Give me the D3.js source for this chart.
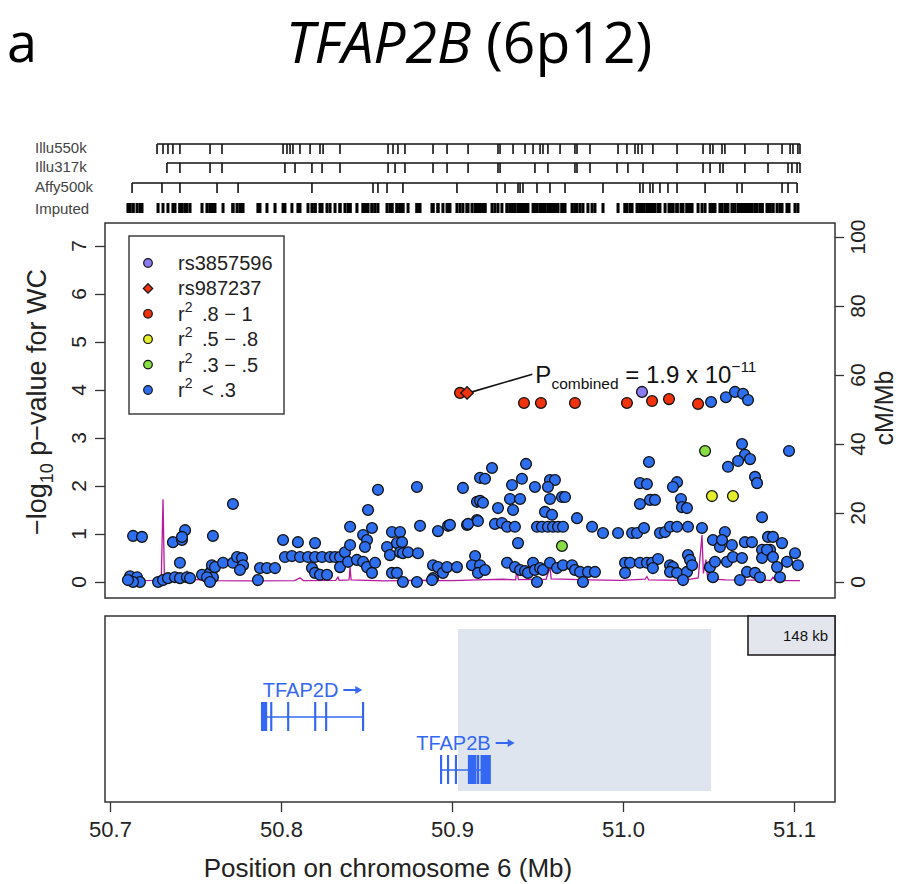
<!DOCTYPE html>
<html>
<head>
<meta charset="utf-8">
<script src="https://cdn.jsdelivr.net/npm/d3@7"></script>
<style>
  body { margin: 0; background: #fff; }
  svg { font-family: "Liberation Sans", Arial, sans-serif; }
</style>
</head>
<body>
<script>
// ---- data (positions in Mb, association as -log10 p) ----
var snpBlue = [
  [50.7135,0.96],[50.7187,0.94],[50.7117,0.12],[50.7158,0.10],[50.7175,0.0],[50.7135,0.0],[50.7105,0.04],
  [50.7281,0.0],[50.7310,0.04],[50.7339,0.08],[50.7380,0.10],[50.7409,0.08],[50.7450,0.10],[50.7468,0.08],
  [50.7368,0.83],[50.7421,0.875],[50.7439,1.08],[50.7421,0.94],[50.7409,0.40],
  [50.7538,0.15],[50.7585,0.19],[50.7602,0.10],[50.7567,0.10],[50.7596,0.35],[50.7614,0.31],[50.7661,0.40],
  [50.7719,0.40],[50.7743,0.52],[50.7772,0.50],[50.7778,0.35],[50.7760,0.25],[50.7585,0.0],[50.7602,0.96],
  [50.7719,1.625],[50.7877,0.29],[50.7865,0.04],[50.7918,0.29],[50.7965,0.29],
  [50.8012,0.875],[50.8099,0.83],[50.8199,0.81],
  [50.8023,0.52],[50.8064,0.54],[50.8111,0.52],[50.8158,0.52],[50.8199,0.52],[50.8240,0.52],[50.8287,0.52],
  [50.8316,0.52],[50.8345,0.52],[50.8181,0.29],[50.8199,0.19],[50.8228,0.15],[50.8269,0.15],
  [50.8374,0.62],[50.8404,0.77],[50.8345,0.31],[50.8392,0.42],[50.8444,0.46],[50.8480,0.42],[50.8503,0.31],
  [50.8550,0.40],[50.8532,0.19],[50.8404,1.15],[50.8480,0.98],[50.8503,0.875],[50.8491,0.73],[50.8532,1.125],
  [50.8509,1.50],[50.8567,1.92],
  [50.8620,0.73],[50.8649,1.04],[50.8637,0.56],[50.8678,0.81],[50.8696,1.04],[50.8708,0.83],[50.8696,0.62],
  [50.8713,0.60],[50.8743,0.62],[50.8801,0.60],[50.8649,0.19],[50.8678,0.19],[50.8713,0.0],[50.8795,0.0],
  [50.8795,1.98],[50.8813,1.17],
  [50.8889,0.35],[50.8918,0.31],[50.8947,0.19],[50.8971,0.31],[50.9029,0.31],[50.8889,0.08],[50.8883,0.04],
  [50.8918,1.06],[50.8977,1.17],[50.9064,1.96],[50.9088,1.19],[50.9146,1.29],[50.9146,1.67],[50.9164,2.17],
  [50.9135,0.54],[50.9117,0.35],[50.9164,0.35],[50.9152,0.19],[50.9193,0.25],
  [50.9234,2.375],[50.9193,2.15],[50.9433,2.46],[50.9409,2.15],[50.9351,2.02],[50.9485,1.98],[50.9573,2.125],
  [50.9602,2.125],[50.9561,1.98],
  [50.9164,1.69],[50.9181,1.65],[50.9269,1.54],[50.9339,1.73],[50.9398,1.73],[50.9357,1.50],[50.9573,1.73],
  [50.9643,1.77],[50.9661,1.77],[50.9544,1.46],[50.9585,1.40],[50.9731,1.33],
  [50.8988,1.19],[50.9094,1.21],[50.9152,1.27],[50.9251,1.21],[50.9292,1.23],[50.9322,1.15],[50.9368,1.15],
  [50.9497,1.15],[50.9526,1.15],[50.9561,1.15],[50.9591,1.15],[50.9620,1.15],[50.9649,1.15],
  [50.9819,1.15],[50.9883,1.02],[50.9971,1.02],
  [51.0053,1.02],[51.0082,1.02],[51.0123,1.125],[51.0216,1.02],[51.0246,1.04],[51.0275,1.15],[51.0316,1.15],
  [51.0380,1.15],[51.0462,1.125],[50.9386,0.81],
  [51.0152,2.5],[51.0099,2.06],[51.0140,2.04],[51.0316,2.08],[51.0292,1.98],[51.0099,1.625],[51.0158,1.71],
  [51.0187,1.71],[51.0339,1.73],[51.0345,1.56],[51.0374,1.54],
  [51.0696,2.875],[51.0713,2.65],[51.0673,2.52],[51.0743,2.56],[51.0614,2.40],[51.0971,2.73],
  [51.0772,2.19],[51.0784,2.06],[51.0813,1.35],
  [51.0596,1.04],[51.0526,0.875],[51.0567,0.73],[51.0637,0.77],[51.0579,0.875],[51.0713,0.83],[51.0754,0.83],
  [51.0848,0.94],[51.0877,0.94],[51.0930,0.81],[51.0813,0.67],[51.0860,0.67],[51.1006,0.60],[51.1023,0.35],
  [50.9322,0.40],[50.9368,0.31],[50.9398,0.25],[50.9427,0.23],[50.9444,0.19],[50.9474,0.40],[50.9485,0.25],
  [50.9515,0.29],[50.9497,0.0],[50.9532,0.25],[50.9573,0.40],[50.9614,0.29],[50.9649,0.35],[50.9702,0.35],
  [50.9719,0.25],[50.9749,0.21],[50.9766,0.0],[50.9795,0.21],[50.9836,0.21],
  [51.0012,0.40],[51.0041,0.40],[51.0012,0.19],[51.0099,0.40],[51.0140,0.40],[51.0170,0.40],[51.0205,0.48],
  [51.0175,0.29],[51.0275,0.35],[51.0292,0.31],[51.0275,0.21],[51.0316,0.19],[51.0374,0.21],[51.0351,0.04],
  [51.0380,0.56],[51.0392,0.46],[51.0404,0.35],
  [51.0509,0.31],[51.0538,0.42],[51.0608,0.42],[51.0643,0.52],[51.0696,0.50],[51.0725,0.21],[51.0772,0.19],
  [51.0813,0.50],[51.0842,0.67],[51.0877,0.52],[51.0901,0.31],[51.0959,0.42],[51.0918,0.10],[51.0684,0.04],
  [51.0801,0.10],[51.0526,0.10],
  [51.0515,3.75],[51.0602,3.85],[51.0655,3.96],[51.0702,3.92],[51.0731,3.79]
];
var snpGreen = [[50.9643,0.75],[51.0480,2.73]];
var snpYellow = [[51.0520,1.79],[51.0643,1.79]];
var snpRed = [[50.9047,3.94],[50.9421,3.73],[50.9520,3.73],[50.9719,3.73],[51.0023,3.73],
              [51.0170,3.77],[51.0269,3.81],[51.0439,3.71]];
var leadSnp = [51.0111, 3.96];      // rs3857596
var refSnp = [50.9088, 3.94];       // rs987237
var pCombinedText = ["1.9", "−11"];

// recombination rate, cM/Mb
var recomb = [
  [50.7082,0.3],[50.7250,0.5],[50.7300,0.8],[50.7310,24.0],[50.7318,1.2],[50.7360,0.6],[50.7430,1.0],
  [50.7450,3.0],[50.7462,0.8],[50.7600,0.4],[50.7800,0.3],[50.8080,0.4],[50.8111,1.2],[50.8130,0.4],
  [50.8320,0.5],[50.8333,1.4],[50.8340,0.5],[50.8398,0.6],[50.8404,4.3],[50.8410,0.6],[50.8600,0.3],
  [50.8800,0.5],[50.9000,0.4],[50.9150,0.6],[50.9300,0.8],[50.9372,0.6],[50.9380,3.5],[50.9388,0.7],
  [50.9550,0.8],[50.9573,4.3],[50.9580,0.9],[50.9800,0.6],[50.9990,0.5],[51.0130,0.8],[51.0140,1.6],
  [51.0150,0.6],[51.0350,0.5],[51.0440,1.2],[51.0462,13.6],[51.0470,2.5],[51.0485,6.5],[51.0495,1.0],
  [51.0600,0.6],[51.0865,0.5],[51.0877,1.4],[51.0890,0.5],[51.0950,0.4],[51.1035,0.4]
];

// genotyping platforms
var illu550k = [50.7275,50.7310,50.7339,50.7368,50.7409,50.7585,50.7655,50.8012,50.8035,50.8053,50.8070,
  50.8111,50.8170,50.8228,50.8246,50.8345,50.8626,50.8655,50.8684,50.8725,50.8889,50.8971,50.9094,50.9269,
  50.9281,50.9357,50.9427,50.9474,50.9515,50.9532,50.9561,50.9632,50.9719,50.9731,50.9807,50.9971,51.0023,
  51.0070,51.0088,51.0111,51.0175,51.0316,51.0468,51.0509,51.0526,51.0579,51.0596,51.0713,51.0848,51.0930,
  51.0977,51.0994,51.1023,51.1035];
var illu317k = [50.7333,50.7409,50.7585,50.7655,50.8023,50.8082,50.8181,50.8240,50.8345,50.8626,50.8667,
  50.8725,50.8889,50.8971,50.9094,50.9269,50.9281,50.9485,50.9561,50.9719,50.9731,50.9807,50.9965,51.0029,
  51.0117,51.0316,51.0468,51.0509,51.0567,51.0585,51.0713,51.0848,51.0965,51.0988,51.1018,51.1035];
var affy500k = [50.7129,50.7304,50.7409,50.7626,50.7749,50.8181,50.8538,50.8567,50.8620,50.8713,50.9029,
  50.9263,50.9310,50.9386,50.9398,50.9415,50.9497,50.9573,50.9661,50.9883,51.0099,51.0117,51.0158,51.0175,
  51.0216,51.0263,51.0316,51.0480,51.0667,51.0696,51.0930,51.0965,51.1018];
var platformNames = ["Illu550k", "Illu317k", "Affy500k", "Imputed"];

// genes: exons as [start, end] in Mb
var geneNames = ["TFAP2D", "TFAP2B"];
var tfap2dExons = [[50.7888,50.7903],[50.7910,50.7914],[50.7942,50.7944],[50.8041,50.8043],[50.8199,50.8201],
  [50.8263,50.8265],[50.8479,50.8481]];
var tfap2bExons = [[50.8935,50.8937],[50.8976,50.8978],[50.9022,50.9024],[50.9098,50.9104],[50.9110,50.9113],
  [50.9121,50.9124],[50.9134,50.9137],[50.9150,50.9154],[50.9172,50.9222]];
var ldRegion = [50.9035, 51.0515];

var xTicks = [50.7, 50.8, 50.9, 51.0, 51.1];
var yTicks = [0, 1, 2, 3, 4, 5, 6, 7];
var recTicks = [0, 20, 40, 60, 80, 100];

var legendLabels = ["rs3857596", "rs987237", ".8 − 1", ".5 − .8", ".3 − .5", "< .3"];
var legendColors = ["#8a7cf2", "#f0330c", "#f0330c", "#e4ee2a", "#86de44", "#2e6ff0"];

// ---- layout ----
var svg = d3.select("body").append("svg")
  .attr("width", 912)
  .attr("height", 884);

var plot = {left: 105, right: 835, top: 223, bottom: 598};
var genePanel = {top: 616, bottom: 802};

var x = d3.scaleLinear().domain([50.7, 51.1]).range([110, 794]);
var y = d3.scaleLinear().domain([0, 7]).range([582, 246]);
var yRec = d3.scaleLinear().domain([0, 100]).range([582, 237]);

// title
svg.append("text")
  .attr("x", 7).attr("y", 62)
  .attr("font-family", "Open Sans").attr("font-size", 54)
  .text("a");

var title = svg.append("text")
  .attr("x", 469).attr("y", 63)
  .attr("text-anchor", "middle")
  .attr("font-family", "Open Sans").attr("font-size", 57);
title.append("tspan").attr("font-style", "italic").text("TFAP2B");
title.append("tspan").text(" (6p12)");

// platform tracks
var trackY = [144, 163, 183];
[illu550k, illu317k, affy500k].forEach(function (snps, i) {
  var g = svg.append("g");
  g.append("line")
    .attr("x1", x(d3.min(snps))).attr("x2", x(d3.max(snps)))
    .attr("y1", trackY[i]).attr("y2", trackY[i])
    .attr("stroke", "#111").attr("stroke-width", 1.3);
  g.selectAll("line.tick")
    .data(snps)
    .enter()
    .append("line")
    .attr("class", "tick")
    .attr("x1", d => x(d)).attr("x2", d => x(d))
    .attr("y1", trackY[i]).attr("y2", trackY[i] + 10)
    .attr("stroke", "#111").attr("stroke-width", 1.6);
});

var allSnps = snpBlue.concat(snpGreen, snpYellow, snpRed, [leadSnp, refSnp]);
svg.append("g").selectAll("rect")
  .data(allSnps)
  .enter()
  .append("rect")
  .attr("x", d => x(d[0]) - 1.5)
  .attr("y", 203)
  .attr("width", 3)
  .attr("height", 10)
  .attr("fill", "#000");

var labelY = [148, 167, 187, 209];
platformNames.forEach(function (name, i) {
  svg.append("text")
    .attr("x", 35).attr("y", labelY[i] + 5)
    .attr("font-size", 15).attr("fill", "#444")
    .text(name);
});

// main panel
svg.append("rect")
  .attr("x", plot.left).attr("y", plot.top)
  .attr("width", plot.right - plot.left).attr("height", plot.bottom - plot.top)
  .attr("fill", "none").attr("stroke", "#333").attr("stroke-width", 1.5);

var line = d3.line().x(d => x(d[0])).y(d => yRec(d[1]));
svg.append("path")
  .datum(recomb)
  .attr("d", line)
  .attr("fill", "none")
  .attr("stroke", "#b8199f")
  .attr("stroke-width", 1.3);

function drawPoints(data, color) {
  svg.append("g").selectAll("circle")
    .data(data)
    .enter()
    .append("circle")
    .attr("cx", d => x(d[0]))
    .attr("cy", d => y(d[1]))
    .attr("r", 5.4)
    .attr("fill", color)
    .attr("stroke", "#111")
    .attr("stroke-width", 1.3);
}
drawPoints(snpBlue, legendColors[5]);
drawPoints(snpGreen, legendColors[4]);
drawPoints(snpYellow, legendColors[3]);
drawPoints(snpRed, legendColors[2]);
drawPoints([leadSnp], legendColors[0]);

svg.append("path")
  .attr("d", d3.symbol(d3.symbolSquare, 78)())
  .attr("transform", `translate(${x(refSnp[0])},${y(refSnp[1])}) rotate(45)`)
  .attr("fill", legendColors[1])
  .attr("stroke", "#111")
  .attr("stroke-width", 1.3);

// annotation
var annX = x(50.947), annY = y(4.33);
svg.append("line")
  .attr("x1", x(refSnp[0]) + 5).attr("y1", y(refSnp[1]) - 1)
  .attr("x2", annX).attr("y2", annY)
  .attr("stroke", "#111").attr("stroke-width", 1.6);
var ann = svg.append("text")
  .attr("x", annX + 3).attr("y", y(4.15))
  .attr("font-size", 24).attr("fill", "#111");
ann.append("tspan").text("P");
ann.append("tspan").attr("font-size", 15.5).attr("dy", 6).text("combined");
ann.append("tspan").attr("dy", -6).text(" = " + pCombinedText[0] + " x 10");
ann.append("tspan").attr("font-size", 15.5).attr("dy", -11).text(pCombinedText[1]);

// legend
svg.append("rect")
  .attr("x", 129).attr("y", 236).attr("width", 155).attr("height", 178)
  .attr("fill", "#fff").attr("stroke", "#333").attr("stroke-width", 1.4);
legendLabels.forEach(function (lab, i) {
  var ly = 263 + i * 25.4;
  if (i == 1) {
    svg.append("path")
      .attr("d", d3.symbol(d3.symbolSquare, 44)())
      .attr("transform", `translate(148,${ly}) rotate(45)`)
      .attr("fill", legendColors[i]).attr("stroke", "#111").attr("stroke-width", 1.2);
  } else {
    svg.append("circle")
      .attr("cx", 148).attr("cy", ly).attr("r", 4.3)
      .attr("fill", legendColors[i]).attr("stroke", "#111").attr("stroke-width", 1.2);
  }
  var t = svg.append("text")
    .attr("x", 178).attr("y", ly + 7)
    .attr("font-size", 20).attr("fill", "#222");
  if (i < 2) {
    t.text(lab);
  } else {
    t.append("tspan").text("r");
    t.append("tspan").attr("font-size", 14).attr("dy", -9).text("2");
    t.append("tspan").attr("x", 202).attr("dy", 9).text(lab);
  }
});

// axes: ticks from d3, labels rotated like R's las=0
var leftAxis = d3.axisLeft(y).tickValues(yTicks).tickSize(10).tickFormat("");
var gl = svg.append("g").attr("transform", `translate(${plot.left},0)`).call(leftAxis);
gl.select(".domain").remove();
gl.selectAll("line").attr("stroke", "#333").attr("stroke-width", 1.3);
svg.append("g").selectAll("text")
  .data(yTicks)
  .enter()
  .append("text")
  .attr("transform", d => `translate(78,${y(d)}) rotate(-90)`)
  .attr("dy", "0.36em")
  .attr("text-anchor", "middle")
  .attr("font-size", 21).attr("fill", "#222")
  .text(d => d);

var rightAxis = d3.axisRight(yRec).tickValues(recTicks).tickSize(9).tickFormat("");
var gr = svg.append("g").attr("transform", `translate(${plot.right},0)`).call(rightAxis);
gr.select(".domain").remove();
gr.selectAll("line").attr("stroke", "#333").attr("stroke-width", 1.3);
svg.append("g").selectAll("text")
  .data(recTicks)
  .enter()
  .append("text")
  .attr("transform", d => `translate(857,${yRec(d)}) rotate(-90)`)
  .attr("dy", "0.36em")
  .attr("text-anchor", "middle")
  .attr("font-size", 21).attr("fill", "#222")
  .text(d => d);

var yl = svg.append("text")
  .attr("transform", "translate(46,402) rotate(-90)")
  .attr("text-anchor", "middle")
  .attr("font-size", 27).attr("fill", "#222");
yl.append("tspan").text("−log");
yl.append("tspan").attr("font-size", 18).attr("dy", 7).text("10");
yl.append("tspan").attr("dy", -7).text(" p−value for WC");

svg.append("text")
  .attr("transform", "translate(893,408) rotate(-90)")
  .attr("text-anchor", "middle")
  .attr("font-size", 25).attr("fill", "#222")
  .text("cM/Mb");

// gene panel
svg.append("rect")
  .attr("x", x(ldRegion[0])).attr("y", 629)
  .attr("width", x(ldRegion[1]) - x(ldRegion[0])).attr("height", 162)
  .attr("fill", "#dfe5ee");

svg.append("rect")
  .attr("x", plot.left).attr("y", genePanel.top)
  .attr("width", plot.right - plot.left).attr("height", genePanel.bottom - genePanel.top)
  .attr("fill", "none").attr("stroke", "#333").attr("stroke-width", 1.5);

svg.append("rect")
  .attr("x", 748).attr("y", genePanel.top)
  .attr("width", plot.right - 748).attr("height", 39)
  .attr("fill", "#e3e7ed").attr("stroke", "#222").attr("stroke-width", 1.6);
svg.append("text")
  .attr("x", 828).attr("y", 641)
  .attr("text-anchor", "end")
  .attr("font-size", 15).attr("fill", "#111")
  .text(Math.round((ldRegion[1] - ldRegion[0]) * 1000) + " kb");

var geneColor = "#3568f2";
var geneRows = [{exons: tfap2dExons, y: 717, label: 697}, {exons: tfap2bExons, y: 770, label: 750}];
geneRows.forEach(function (row, i) {
  var start = d3.min(row.exons, d => d[0]), end = d3.max(row.exons, d => d[1]);
  var g = svg.append("g");
  g.append("line")
    .attr("x1", x(start)).attr("x2", x(end))
    .attr("y1", row.y).attr("y2", row.y)
    .attr("stroke", geneColor).attr("stroke-width", 1.6);
  g.selectAll("rect")
    .data(row.exons)
    .enter()
    .append("rect")
    .attr("x", d => x(d[0]) - 0.9)
    .attr("width", d => Math.max(1.8, x(d[1]) - x(d[0]) + 1.8))
    .attr("y", row.y - 15).attr("height", 29)
    .attr("fill", geneColor);

  var lab = svg.append("g");
  var txt = lab.append("text")
    .attr("x", 0).attr("y", 0)
    .attr("font-size", 20).attr("fill", geneColor)
    .text(geneNames[i]);
  var w = txt.node().getComputedTextLength();
  lab.append("line")
    .attr("x1", w + 5).attr("x2", w + 19).attr("y1", -7).attr("y2", -7)
    .attr("stroke", geneColor).attr("stroke-width", 2);
  lab.append("path")
    .attr("d", `M${w + 24},-7 L${w + 17},-11 L${w + 17},-3 Z`)
    .attr("fill", geneColor);
  var total = w + 24;
  lab.attr("transform", `translate(${(x(start) + x(end)) / 2 - total / 2},${row.label})`);
});

var bottomAxis = d3.axisBottom(x).tickValues(xTicks).tickSize(10).tickFormat(d3.format(".1f"));
var gb = svg.append("g").attr("transform", `translate(0,${genePanel.bottom})`).call(bottomAxis);
gb.select(".domain").remove();
gb.selectAll("text")
  .attr("y", 19).attr("dy", "0.71em")
  .attr("font-size", 22).attr("font-family", "Liberation Sans").attr("fill", "#222");
gb.selectAll("line").attr("stroke", "#333").attr("stroke-width", 1.3);

svg.append("text")
  .attr("x", 388).attr("y", 877)
  .attr("text-anchor", "middle")
  .attr("font-size", 26).attr("fill", "#222")
  .text("Position on chromosome 6 (Mb)");
</script>
</body>
</html>
